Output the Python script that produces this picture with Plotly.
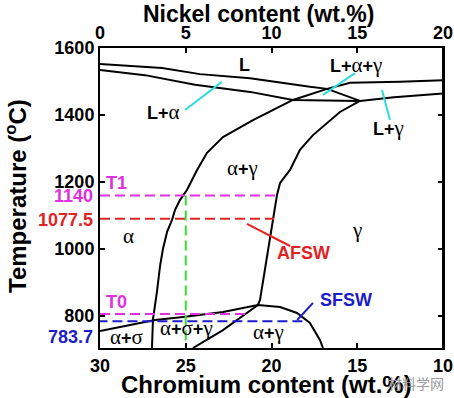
import plotly.graph_objects as go

# ---------------- data (Cr wt.% on bottom axis, Ni = 30 - Cr on top axis) -------------
liq_alpha_cr = [30, 26.38, 24.17, 21.25, 17.76, 16.76, 14.84]
liq_alpha_t = [1552, 1540, 1522, 1510, 1484, 1478, 1442]

sol_alpha_cr = [30, 27.38, 24.46, 22.24, 21.25, 18.75, 14.84]
sol_alpha_t = [1534, 1519, 1490, 1475, 1469, 1445, 1442]

sol_gamma_cr = [14.84, 12.86, 10.0]
sol_gamma_t = [1442, 1453, 1464]

alpha_bnd_cr = [26.97, 26.91, 26.68, 26.5, 26.33, 26.09, 25.8, 25.63, 25.34, 24.93,
                24.34, 23.76, 22.83, 21.08, 18.75, 16.76, 15.42, 12.51, 10.0]
alpha_bnd_t = [704.5, 791, 872, 949, 1000, 1051, 1087, 1116, 1146, 1176,
               1236, 1287, 1334, 1385, 1445, 1478, 1496, 1499, 1504]

gamma_bnd_cr = [14.84, 16.01, 17.58, 18.34, 18.92, 19.5, 19.68, 19.91, 20.2, 20.5, 20.67, 20.79]
gamma_bnd_t = [1442, 1409, 1340, 1296, 1236, 1197, 1161, 1087, 1006, 907, 848, 833]

dome_cr = [30, 26.79, 25.16, 22.83, 20.79, 19.5, 18.51, 17.76, 17.17, 17.0]
dome_t = [755, 788, 797, 812, 833, 827, 809, 779, 728, 704.5]

diag_cr = [24.58, 22.83, 20.79]
diag_t = [704.5, 758, 833]

# reference (dashed) lines: temperature, start Cr, end Cr
t1_line = [1160, 30, 19.68]
afsw_line = [1090, 30, 19.85]
t0_line = [806, 30, 21.55]
sfsw_line = [784, 30.15, 18.1]
cr25_line = [25, 1160, 704.5]

ni_ticks = [0, 5, 10, 15, 20]
cr_ticks = [30, 25, 20, 15, 10]
t_ticks = [800, 1000, 1200, 1400, 1600]

MAG = "#e030e0"
RED = "#e02424"
BLUE = "#1c1cc8"
GREEN = "#3ada3a"
CYAN = "#30dada"
FONT = "Liberation Sans, Arial, sans-serif"

fig = go.Figure()

def curve(x, y):
    fig.add_trace(go.Scatter(x=x, y=y, mode="lines", line=dict(color="black", width=2),
                             hoverinfo="skip", showlegend=False))

curve(liq_alpha_cr, liq_alpha_t)
curve(sol_alpha_cr, sol_alpha_t)
curve(sol_gamma_cr, sol_gamma_t)
curve(alpha_bnd_cr, alpha_bnd_t)
curve(gamma_bnd_cr, gamma_bnd_t)
curve(dome_cr, dome_t)
curve(diag_cr, diag_t)

def hline(spec, color):
    t, x0, x1 = spec
    fig.add_trace(go.Scatter(x=[x0, x1], y=[t, t], mode="lines",
                             line=dict(color=color, width=2, dash="10px,5px"),
                             hoverinfo="skip", showlegend=False, cliponaxis=False))

hline(t1_line, MAG)
hline(afsw_line, RED)
hline(t0_line, MAG)
hline(sfsw_line, BLUE)
fig.add_trace(go.Scatter(x=[cr25_line[0], cr25_line[0]], y=[cr25_line[1], cr25_line[2]], mode="lines",
                         line=dict(color=GREEN, width=2, dash="10px,5px"),
                         hoverinfo="skip", showlegend=False))

def leader(x0, y0, x1, y1, color):
    fig.add_trace(go.Scatter(x=[x0, x1], y=[y0, y1], mode="lines", line=dict(color=color, width=2),
                             hoverinfo="skip", showlegend=False))

leader(25.04, 1415, 22.89, 1499, CYAN)      # L+alpha
leader(15.13, 1525, 17.0, 1460, CYAN)       # L+alpha+gamma
leader(13.56, 1475, 13.09, 1385, CYAN)      # L+gamma
leader(21.43, 1075, 18.92, 1009, RED)       # AFSW
leader(18.5, 788, 17.58, 839, BLUE)         # SFSW

# invisible trace to activate the top (nickel) axis
fig.add_trace(go.Scatter(x=[0, 20], y=[1000, 1000], xaxis="x2", mode="lines",
                         line=dict(width=0), opacity=0, hoverinfo="skip", showlegend=False))

G = '<span style="font-family:Liberation Serif;font-weight:normal;font-size:21px">%s</span>'
a = G % "α"
g = G % "γ"
s = G % "σ"
plus = "<b>+</b>"

labels = [
    ("<b>L</b>", 21.6, 1549, "black"),
    ("<b>L+</b>" + a, 26.27, 1409, "black"),
    ("<b>L+</b>" + a + plus + g, 15.07, 1549, "black"),
    ("<b>L+</b>" + g, 13.15, 1361, "black"),
    (a + plus + g, 21.72, 1242, "black"),
    (a, 28.31, 1039, "black"),
    (g, 15.01, 1057, "black"),
    (a + plus + s, 28.48, 737, "black"),
    (a + plus + s + plus + g, 24.93, 764, "black"),
    (a + plus + g, 20.2, 752, "black"),
    ("<b>AFSW</b>", 18.16, 988, RED),
    ("<b>SFSW</b>", 15.66, 848, BLUE),
    ("<b>T1</b>", 29.05, 1197, MAG),
    ("<b>T0</b>", 29.05, 842, MAG),
]
ann = []
for txt, x, y, c in labels:
    ann.append(dict(text=txt, x=x, y=y, xref="x", yref="y", showarrow=False,
                    xanchor="center", yanchor="middle",
                    font=dict(family=FONT, size=18, color=c)))

# special temperature labels to the left of the axis
for txt, y, c in [("<b>1140</b>", 1157, MAG), ("<b>1077.5</b>", 1087, RED), ("<b>783.7</b>", 737, BLUE)]:
    ann.append(dict(text=txt, x=-0.015, y=y, xref="paper", yref="y", xanchor="right", yanchor="middle",
                    showarrow=False, font=dict(family=FONT, size=18, color=c)))

L, R, T, B = 100, 11, 48, 50
W, H = 454, 398
pw, ph = W - L - R, H - T - B

def px(xp):
    return (xp - L) / pw

def py(yp):
    return (H - yp - B) / ph

# axis titles (positions in picture pixels converted to paper fractions)
for txt, xp, yp, size, ang, fam, col in [
    ("<b>Nickel content (wt.%)</b>", 258, 14, 23, 0, FONT, "black"),
    ("<b>Chromium content (wt.%)</b>", 266, 384, 24, 0, FONT, "black"),
    ("<b>Temperature (<sup>o</sup>C)</b>", 16, 196, 24, -90, FONT, "black"),
    ("材料学网", 416, 383, 14, 0, "Noto Sans CJK SC", "#9a9a9a"),
]:
    ann.append(dict(text=txt, x=px(xp), y=py(yp), xref="paper", yref="paper",
                    xanchor="center", yanchor="middle", textangle=ang,
                    showarrow=False, font=dict(family=fam, size=size, color=col)))

axis_common = dict(ticks="inside", ticklen=5, tickwidth=2, tickcolor="black",
                   showline=True, linewidth=2, linecolor="black", showgrid=False, zeroline=False,
                   tickfont=dict(size=18, family=FONT), automargin=False)

fig.update_layout(
    width=W, height=H,
    margin=dict(l=L, r=R, t=T, b=B, autoexpand=False),
    paper_bgcolor="white", plot_bgcolor="white",
    font=dict(family=FONT, size=18, color="black"),
    xaxis=dict(range=[30, 10], tickvals=cr_ticks, ticktext=["<b>%d</b>" % v for v in cr_ticks],
               **axis_common),
    xaxis2=dict(range=[0, 20], overlaying="x", side="top", tickvals=ni_ticks,
                ticktext=["<b>%d</b>" % v for v in ni_ticks], **axis_common),
    yaxis=dict(range=[704.5, 1600], tickvals=t_ticks, ticktext=["<b>%d</b>" % v for v in t_ticks],
               mirror="ticks", **axis_common),
    annotations=ann,
    showlegend=False,
)
# right border line
fig.add_shape(type="line", xref="paper", yref="paper", x0=1, x1=1, y0=0, y1=1,
              line=dict(color="black", width=2))

fig.write_html("out.html", config={"displayModeBar": False},
               post_script="document.body.style.margin='0';")
